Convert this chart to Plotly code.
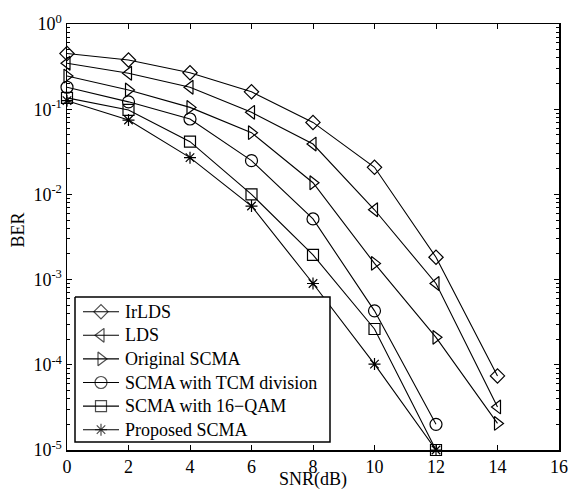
import plotly.graph_objects as go

snr = [0, 2, 4, 6, 8, 10, 12, 14]
snr_short = [0, 2, 4, 6, 8, 10, 12]

ber_irlds = [0.45, 0.378, 0.268, 0.16, 0.070, 0.0208, 0.00183, 7.4e-5]
ber_lds = [0.346, 0.264, 0.181, 0.092, 0.039, 0.0066, 9.0e-4, 3.2e-5]
ber_orig = [0.245, 0.168, 0.105, 0.053, 0.0137, 0.00155, 2.1e-4, 2.05e-5]
ber_tcm = [0.181, 0.122, 0.0767, 0.0249, 0.00515, 4.3e-4, 2.0e-5]
ber_qam = [0.136, 0.098, 0.0416, 0.0100, 0.00195, 2.63e-4, 1.0e-5]
ber_prop = [0.126, 0.0746, 0.027, 0.0073, 9.0e-4, 1.02e-4, 1.0e-5]

names = ["IrLDS", "LDS", "Original SCMA", "SCMA with TCM division",
         "SCMA with 16\u2212QAM", "Proposed SCMA"]
symbols = ["diamond-open", "triangle-left-open", "triangle-right-open",
           "circle-open", "square-open", "asterisk-open"]
sizes = [11, 12, 12, 12, 11, 10]
xs = [snr, snr, snr, snr_short, snr_short, snr_short]
ys = [ber_irlds, ber_lds, ber_orig, ber_tcm, ber_qam, ber_prop]

x_ticks = [0, 2, 4, 6, 8, 10, 12, 14, 16]
y_exps = [0, -1, -2, -3, -4, -5]
x_title = "SNR(dB)"
y_title = "BER"

FONT = "Liberation Serif"

W, H = 569, 491
PL, PR, PT, PB = 67, 559, 24, 450


def px_to_paper(px, py):
    return (px - PL) / (PR - PL), (PB - py) / (PB - PT)


fig = go.Figure()
for x, y, n, s, sz in zip(xs, ys, names, symbols, sizes):
    fig.add_trace(go.Scatter(
        x=x, y=y, name=n, mode="lines+markers", showlegend=False,
        line=dict(color="black", width=1.1),
        marker=dict(symbol=s, size=sz, color="black",
                    line=dict(color="black", width=1.2)),
        cliponaxis=False,
    ))

# ---- hand-drawn legend on an overlay axis measured in page pixels ----
LB_X0, LB_X1, LB_Y0, LB_Y1 = 75, 330, 297, 442
fig.add_trace(go.Scatter(
    x=[LB_X0, LB_X1, LB_X1, LB_X0, LB_X0],
    y=[LB_Y0, LB_Y0, LB_Y1, LB_Y1, LB_Y0],
    mode="lines", fill="toself", fillcolor="white",
    line=dict(color="black", width=1.5),
    xaxis="x2", yaxis="y2", showlegend=False, hoverinfo="skip",
))
row0, row_gap = 311.7, 23.6
for i, (n, s, sz) in enumerate(zip(names, symbols, sizes)):
    ry = row0 + i * row_gap
    fig.add_trace(go.Scatter(
        x=[83, 101, 119], y=[ry, ry, ry], mode="lines+markers",
        line=dict(color="black", width=1.1),
        marker=dict(symbol=s, size=[0, sz, 0], color="black",
                    line=dict(color="black", width=1.2)),
        xaxis="x2", yaxis="y2", showlegend=False, hoverinfo="skip",
    ))
    fig.add_annotation(
        x=123, y=ry, xref="x2", yref="y2", text=n, showarrow=False,
        xanchor="left", yanchor="middle",
        font=dict(family=FONT, size=18, color="black"),
    )

# axis titles placed at the reference's pixel positions
tx, ty = px_to_paper((PL + PR) / 2, 479)
fig.add_annotation(x=tx, y=ty, xref="paper", yref="paper",
                   text=x_title, showarrow=False,
                   xanchor="center", yanchor="middle",
                   font=dict(family=FONT, size=18, color="black"))
bx, by = px_to_paper(17.5, 230)
fig.add_annotation(x=bx, y=by, xref="paper", yref="paper",
                   text=y_title, showarrow=False, textangle=-90,
                   xanchor="center", yanchor="middle",
                   font=dict(family=FONT, size=18, color="black"))

minor_vals = [m * 10 ** e for e in range(-5, 0) for m in range(2, 10)]

fig.update_layout(
    width=W, height=H,
    margin=dict(l=PL, r=W - PR, t=PT, b=H - PB),
    paper_bgcolor="white", plot_bgcolor="white",
    font=dict(family=FONT, size=18, color="black"),
    showlegend=False,
    xaxis=dict(
        range=[0, 16], tickvals=x_ticks, ticktext=[str(v) for v in x_ticks],
        ticks="inside", ticklen=5, tickcolor="black", mirror="ticks",
        showline=True, linecolor="black", linewidth=1.5,
        showgrid=False, zeroline=False, automargin=False,
        tickfont=dict(family=FONT, size=18),
    ),
    yaxis=dict(
        type="log", range=[-5, 0],
        tickvals=[10 ** e for e in y_exps],
        ticktext=["10<sup>%d</sup>" % e for e in y_exps],
        ticks="inside", ticklen=5, tickcolor="black", mirror="ticks",
        showline=True, linecolor="black", linewidth=1.5,
        showgrid=False, zeroline=False, automargin=False,
        tickfont=dict(family=FONT, size=18),
        minor=dict(tickvals=minor_vals, ticks="inside", ticklen=3,
                   tickcolor="black", showgrid=False),
    ),
    xaxis2=dict(range=[PL, PR], overlaying="x", anchor="y2", visible=False,
                fixedrange=True),
    yaxis2=dict(range=[PB, PT], overlaying="y", anchor="x2", visible=False,
                fixedrange=True),
)

fig.write_html(
    "out.html",
    config={"displayModeBar": False, "staticPlot": True},
    post_script="document.body.style.margin='0';"
                "document.body.style.overflow='hidden';",
)
